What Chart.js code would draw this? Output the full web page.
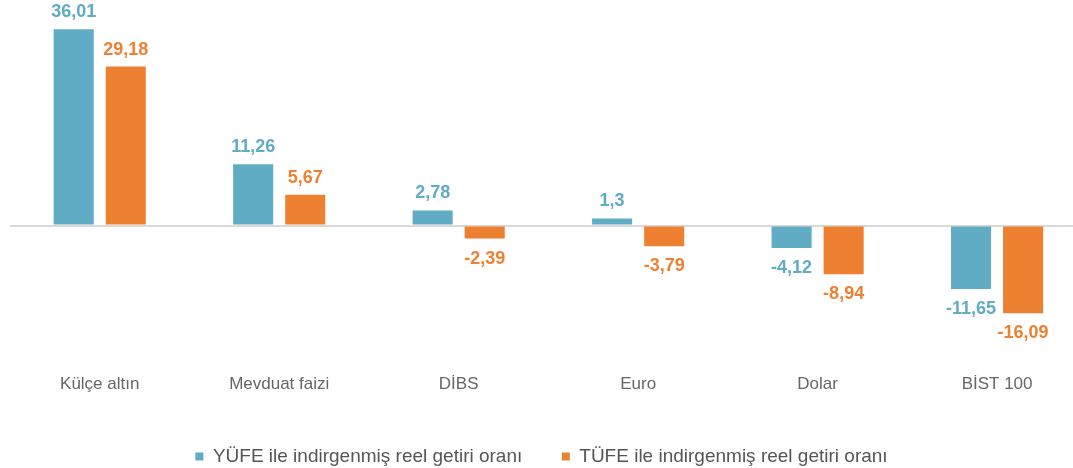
<!DOCTYPE html>
<html lang="tr">
<head>
    <meta charset="UTF-8" />
    <title>Reel getiri oranları</title>
    <script src="https://cdn.jsdelivr.net/npm/chart.js"></script>
    <style>
        html, body { margin: 0; padding: 0; background: #fff; overflow: hidden; }
        #wrap { width: 1073px; height: 468px; }
    </style>
</head>
<body>
    <div id="wrap"><canvas id="chart"></canvas></div>

    <script>
        // data
        const categories = ["Külçe altın", "Mevduat faizi", "DİBS", "Euro", "Dolar", "BİST 100"];
        const yufeValues = [36.01, 11.26, 2.78, 1.3, -4.12, -11.65];
        const tufeValues = [29.18, 5.67, -2.39, -3.79, -8.94, -16.09];
        const seriesNames = ["YÜFE ile indirgenmiş reel getiri oranı", "TÜFE ile indirgenmiş reel getiri oranı"];

        const BLUE = "#60acc4";
        const ORANGE = "#ee8032";

        // draws the value above / below each bar, with a decimal comma
        const valueLabels = {
            id: "valueLabels",
            afterDatasetsDraw(chart) {
                const ctx = chart.ctx;
                ctx.save();
                ctx.font = "bold 18px 'Liberation Sans', Arial, sans-serif";
                ctx.textAlign = "center";
                ctx.textBaseline = "alphabetic";
                chart.data.datasets.forEach((ds, i) => {
                    const meta = chart.getDatasetMeta(i);
                    ctx.fillStyle = ds.backgroundColor;
                    meta.data.forEach((bar, j) => {
                        const v = ds.data[j].y;
                        const txt = String(v).replace(".", ",");
                        const y = v >= 0 ? bar.y - 12 : bar.y + 25;
                        ctx.fillText(txt, bar.x, y);
                    });
                });
                ctx.restore();
            }
        };

        const toPoints = (arr) => arr.map((v, i) => ({ x: i, y: v }));

        new Chart(document.getElementById("chart"), {
            type: "bar",
            data: {
                datasets: [
                    { label: seriesNames[0], data: toPoints(yufeValues), backgroundColor: BLUE },
                    { label: seriesNames[1], data: toPoints(tufeValues), backgroundColor: ORANGE }
                ]
            },
            options: {
                responsive: true,
                maintainAspectRatio: false,
                animation: false,
                categoryPercentage: 0.58,
                barPercentage: 0.77,
                layout: { padding: { left: 10, right: 0, top: 0, bottom: 0 } },
                scales: {
                    x: {
                        type: "linear",
                        offset: false,
                        min: -0.5,
                        max: 5.423,
                        grid: { display: false, drawTicks: false },
                        border: { display: false },
                        afterBuildTicks: (axis) => {
                            axis.ticks = categories.map((c, i) => ({ value: i }));
                        },
                        ticks: {
                            autoSkip: false,
                            maxRotation: 0,
                            padding: 12.5,
                            color: "#666",
                            font: { family: "'Liberation Sans', Arial, sans-serif", size: 17 },
                            callback: (v) => categories[v]
                        }
                    },
                    y: {
                        min: -25.05,
                        max: 41.38,
                        ticks: { display: false, stepSize: 1 },
                        border: { display: false },
                        grid: {
                            drawTicks: false,
                            lineWidth: 2,
                            color: (c) => (c.tick && c.tick.value === 0 ? "#d9d9d9" : "rgba(0,0,0,0)")
                        }
                    }
                },
                plugins: {
                    tooltip: { enabled: false },
                    legend: {
                        position: "bottom",
                        maxHeight: 60.5,
                        labels: {
                            boxWidth: 8,
                            boxHeight: 8,
                            padding: 39.5,
                            color: "#555",
                            font: { family: "'Liberation Sans', Arial, sans-serif", size: 19 }
                        }
                    }
                }
            },
            plugins: [valueLabels]
        });
    </script>
</body>
</html>
